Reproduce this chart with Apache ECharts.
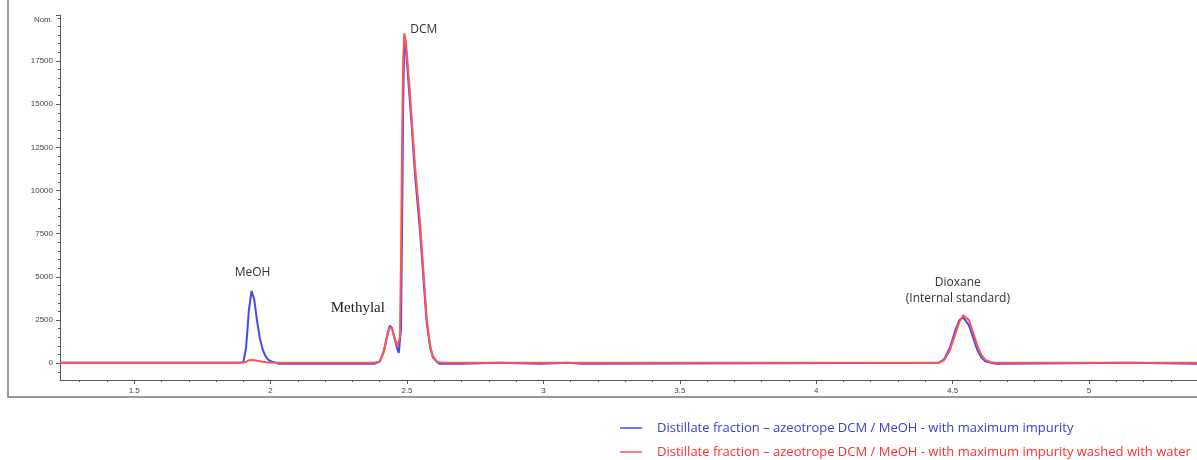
<!DOCTYPE html>
<html>
<head>
<meta charset="utf-8">
<script src="https://cdn.jsdelivr.net/npm/echarts@6/dist/echarts.min.js"></script>
<style>html,body{margin:0;padding:0;background:#fff;}#c{width:1197px;height:460px;}</style>
</head>
<body>
<div id="c"></div>
<script>
// Retention time (min)
const times = [
  1.228, 1.88, 1.90, 1.91, 1.915, 1.92, 1.93, 1.94, 1.95, 1.96, 1.97, 1.98, 1.99, 2.00, 2.02, 2.03,
  2.38, 2.40, 2.415, 2.43, 2.437, 2.445, 2.455, 2.465, 2.470, 2.474, 2.478, 2.482, 2.486, 2.490, 2.492,
  2.496, 2.500, 2.510, 2.517, 2.530, 2.547, 2.560, 2.572, 2.585, 2.595, 2.610, 2.620, 2.630, 2.700, 2.705,
  2.84, 2.845, 2.99, 2.995, 3.09, 3.095, 3.14, 3.145,
  4.45, 4.47, 4.49, 4.51, 4.525, 4.539, 4.545, 4.56, 4.575, 4.59, 4.605, 4.62, 4.64, 4.66, 4.68, 4.685,
  5.15, 5.155, 5.396
];
// Blue: distillate fraction with maximum impurity
const blueValues = [
  30, 30, 60, 900, 1900, 3000, 4185, 3700, 2500, 1500, 850, 450, 230, 120, 40, -30,
  -30, 100, 700, 1800, 2180, 2050, 1400, 800, 600, 700, 2000, 8000, 15000, 18600, 18850,
  18200, 17400, 15300, 13800, 10800, 7800, 5000, 2400, 900, 350, 80, -30, -30, -30, 30,
  30, -30, -30, 30, 30, -30, -30, 30,
  30, 250, 900, 1900, 2500, 2660, 2620, 2200, 1500, 800, 350, 120, 30, -30, -30, 30,
  30, -30, -30
];
// Red: distillate fraction with maximum impurity washed with water
const redValues = [
  30, 30, 40, 80, 150, 170, 190, 170, 150, 120, 90, 70, 50, 40, 30, 30,
  30, 100, 650, 1750, 2100, 2000, 1450, 1000, 900, 1500, 6000, 13000, 17500, 19100, 19200,
  18600, 17800, 15800, 14200, 11300, 8300, 5400, 2600, 1000, 400, 100, 60, 40, 30, 30,
  30, 30, 30, 30, 30, 30, 30, 30,
  30, 200, 750, 1700, 2400, 2780, 2837, 2500, 1800, 1050, 500, 200, 60, 30, 30, 30,
  30, 30, 30
];
const xTickLabels = [1.5, 2, 2.5, 3, 3.5, 4, 4.5, 5];
const yTickLabels = [0, 2500, 5000, 7500, 10000, 12500, 15000, 17500];
const seriesNames = [
  'Distillate fraction \u2013 azeotrope DCM / MeOH - with maximum impurity',
  'Distillate fraction \u2013 azeotrope DCM / MeOH - with maximum impurity washed with water'
];

const X_MIN = 1.228, X_MAX = 5.396, Y_MIN = -967, Y_MAX = 20163, NOM_AT = 19880;
const BLUE = '#4747f2', RED = '#ff5555';

const blueData = times.map((t, i) => [t, blueValues[i]]);
const redData = times.map((t, i) => [t, redValues[i]]);
const xMinor = []; for (let i = 13; i <= 53; i++) xMinor.push(i / 10);
const yMinor = []; for (let v = -500; v <= 20000; v += 500) yMinor.push(v);
const yMajor = yTickLabels.concat([Y_MAX]);

const axisColor = '#5a5a5a';
const labelStyle = { fontSize: 8, color: '#444', fontFamily: 'Liberation Sans' };
const annoFont = { fontFamily: 'Open Sans', fontSize: 12, color: '#333' };

const chart = echarts.init(document.getElementById('c'), null, { renderer: 'canvas' });
chart.setOption({
  animation: false,
  backgroundColor: '#fff',
  grid: { left: 60, top: 15, right: 0, bottom: 80 },
  graphic: [{
    type: 'rect', silent: true, z: 0,
    shape: { x: 8, y: -5, width: 1200, height: 402 },
    style: { fill: 'none', stroke: '#777', lineWidth: 1.5 }
  }],
  xAxis: [{
    type: 'value', min: X_MIN, max: X_MAX,
    axisLine: { show: true, onZero: false, lineStyle: { color: axisColor, width: 1 } },
    axisTick: { show: true, customValues: xTickLabels, length: 4, lineStyle: { color: axisColor } },
    axisLabel: { show: true, customValues: xTickLabels, margin: 7, formatter: v => String(v), ...labelStyle },
    splitLine: { show: false }
  }, {
    type: 'value', min: X_MIN, max: X_MAX, position: 'bottom',
    axisLine: { show: false, onZero: false },
    axisTick: { show: true, customValues: xMinor, length: 2, lineStyle: { color: axisColor } },
    axisLabel: { show: false },
    splitLine: { show: false }
  }],
  yAxis: [{
    type: 'value', min: Y_MIN, max: Y_MAX,
    axisLine: { show: true, onZero: false, lineStyle: { color: axisColor, width: 1 } },
    axisTick: { show: true, customValues: yMajor, length: 4, lineStyle: { color: axisColor } },
    axisLabel: {
      show: true, customValues: yTickLabels.concat([NOM_AT]), margin: 7,
      formatter: v => (v === NOM_AT ? 'Nom.' : String(v)), ...labelStyle
    },
    splitLine: { show: false }
  }, {
    type: 'value', min: Y_MIN, max: Y_MAX, position: 'left',
    axisLine: { show: false, onZero: false },
    axisTick: { show: true, customValues: yMinor, length: 2, lineStyle: { color: axisColor } },
    axisLabel: { show: false },
    splitLine: { show: false }
  }],
  legend: {
    orient: 'vertical', left: 620, top: 420, itemGap: 8, padding: 0,
    itemWidth: 22, itemHeight: 1.5, icon: 'rect',
    textStyle: { fontFamily: 'Open Sans', fontSize: 13, lineHeight: 16, padding: [0, 0, 0, 10] },
    data: [
      { name: seriesNames[0], textStyle: { color: '#3c3cd2' } },
      { name: seriesNames[1], textStyle: { color: '#ff2f2f' } }
    ]
  },
  series: [{
    name: seriesNames[0], type: 'line', data: blueData, showSymbol: false, symbol: 'none',
    color: BLUE, lineStyle: { color: BLUE, width: 2 }, z: 2,
    markPoint: {
      symbol: 'circle', symbolSize: 0,
      data: [
        { coord: [times[6], blueValues[6]], label: { show: true, position: 'inside', offset: [1, -18], formatter: 'MeOH', ...annoFont } },
        { coord: [times[20], blueValues[20]], label: { show: true, position: 'inside', offset: [-32, -18], formatter: 'Methylal', fontFamily: 'Liberation Serif', fontSize: 15, color: '#222' } }
      ]
    }
  }, {
    name: seriesNames[1], type: 'line', data: redData, showSymbol: false, symbol: 'none',
    color: RED, lineStyle: { color: RED, width: 2 }, z: 3,
    markPoint: {
      symbol: 'circle', symbolSize: 0,
      data: [
        { coord: [times[30], redValues[30]], label: { show: true, position: 'inside', offset: [19, -2], formatter: 'DCM', ...annoFont } },
        { coord: [times[60], redValues[60]], label: { show: true, position: 'inside', offset: [-7, -24], formatter: 'Dioxane\n(Internal standard)', lineHeight: 16, ...annoFont } }
      ]
    }
  }]
});
</script>
</body>
</html>
